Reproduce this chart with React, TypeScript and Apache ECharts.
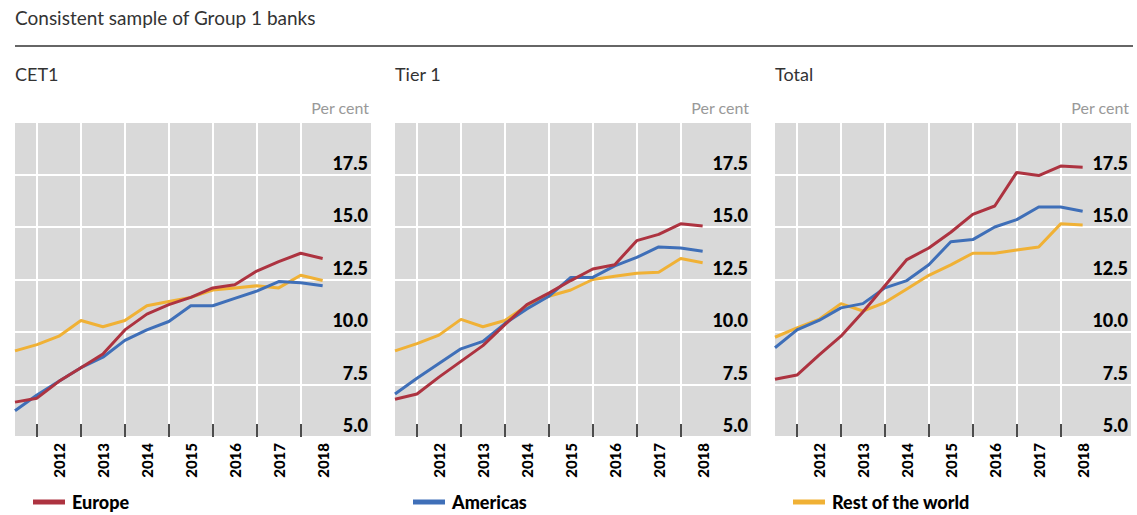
import { useEffect, useRef } from "react";
import * as echarts from "echarts";

// Half-yearly observations (mid-2011 to mid-2018), x in years
const periods = [2011.5, 2012, 2012.5, 2013, 2013.5, 2014, 2014.5, 2015, 2015.5, 2016, 2016.5, 2017, 2017.5, 2018, 2018.5];
const yearTicks = [2012, 2013, 2014, 2015, 2016, 2017, 2018];
const yearLabelPos = [2012.5, 2013.5, 2014.5, 2015.5, 2016.5, 2017.5, 2018.5];

const panelTitles = ["CET1", "Tier 1", "Total"];
const regions = ["Europe", "Americas", "Rest of the world"];
const regionColors = ["#ad3340", "#3f6fb8", "#f0b135"];

const cet1Europe = [6.66, 6.85, 7.65, 8.3, 8.95, 10.1, 10.85, 11.3, 11.65, 12.1, 12.25, 12.9, 13.35, 13.75, 13.5];
const cet1Americas = [6.25, 7.0, 7.65, 8.3, 8.8, 9.6, 10.1, 10.5, 11.25, 11.25, 11.6, 11.95, 12.4, 12.35, 12.2];
const cet1Rest = [9.1, 9.4, 9.8, 10.55, 10.25, 10.55, 11.25, 11.45, 11.65, 12.0, 12.1, 12.2, 12.1, 12.7, 12.45];

const tier1Europe = [6.8, 7.05, 7.85, 8.6, 9.35, 10.35, 11.3, 11.85, 12.45, 13.0, 13.2, 14.35, 14.65, 15.15, 15.05];
const tier1Americas = [7.05, 7.8, 8.5, 9.2, 9.55, 10.4, 11.1, 11.7, 12.6, 12.6, 13.15, 13.55, 14.05, 14.0, 13.85];
const tier1Rest = [9.1, 9.45, 9.85, 10.6, 10.25, 10.55, 11.25, 11.7, 12.0, 12.5, 12.65, 12.8, 12.85, 13.5, 13.3];

const totalEurope = [7.75, 7.95, 8.9, 9.8, 10.95, 12.2, 13.45, 14.0, 14.75, 15.6, 16.0, 17.6, 17.45, 17.9, 17.85];
const totalAmericas = [9.25, 10.1, 10.55, 11.15, 11.35, 12.1, 12.45, 13.2, 14.3, 14.4, 15.0, 15.35, 15.95, 15.95, 15.75];
const totalRest = [9.75, 10.2, 10.6, 11.35, 11.0, 11.4, 12.05, 12.7, 13.2, 13.75, 13.75, 13.9, 14.05, 15.15, 15.1];

const panelData = [
  [cet1Europe, cet1Americas, cet1Rest],
  [tier1Europe, tier1Americas, tier1Rest],
  [totalEurope, totalAmericas, totalRest],
];

const FONT = "Lato, 'Noto Sans', sans-serif";
const PANEL_LEFT = [15, 395, 775];
const PANEL_W = 356;
const GRID_TOP = 122;
const GRID_H = 315;

export default function App() {
  const ref = useRef<HTMLDivElement>(null);

  useEffect(() => {
    document.body.style.margin = "0";
    if (!ref.current) return;
    const chart = echarts.init(ref.current, null, { renderer: "svg" });

    const grids = PANEL_LEFT.map((left) => ({
      left,
      top: GRID_TOP,
      width: PANEL_W,
      height: GRID_H,
      show: true,
      backgroundColor: "#d9d9d9",
      borderWidth: 0,
    }));

    const xAxes = PANEL_LEFT.map((_, i) => ({
      type: "value",
      gridIndex: i,
      min: 2011.5,
      max: 2019.6,
      axisLine: { show: false },
      axisTick: {
        show: true,
        inside: true,
        length: 13,
        customValues: yearTicks,
        lineStyle: { color: "#111", width: 1.5 },
      },
      splitLine: { show: true, lineStyle: { color: "#ffffff", width: 2 } },
      axisLabel: {
        show: true,
        customValues: yearLabelPos,
        formatter: (v: number) => String(Math.floor(v)),
        rotate: 90,
        margin: 6,
        fontFamily: FONT,
        fontWeight: 900,
        fontSize: 15,
        color: "#000",
      },
    }));

    const yAxes = PANEL_LEFT.map((_, i) => ({
      type: "value",
      gridIndex: i,
      position: "right",
      min: 5,
      max: 20,
      interval: 2.5,
      axisLine: { show: false },
      axisTick: { show: false },
      splitLine: { show: true, lineStyle: { color: "#ffffff", width: 2 } },
      axisLabel: {
        inside: true,
        margin: 3,
        showMaxLabel: false,
        formatter: (v: number) => (v >= 20 ? "" : v.toFixed(1)),
        verticalAlign: "bottom",
        padding: [0, 0, 3, 0],
        fontFamily: FONT,
        fontWeight: 900,
        fontSize: 18,
        color: "#000",
      },
    }));

    const series: any[] = [];
    panelData.forEach((group, gi) => {
      group.forEach((vals, ri) => {
        series.push({
          type: "line",
          name: regions[ri],
          xAxisIndex: gi,
          yAxisIndex: gi,
          data: periods.map((p, k) => [p, vals[k]]),
          showSymbol: false,
          symbol: "none",
          lineStyle: { color: regionColors[ri], width: 3 },
          itemStyle: { color: regionColors[ri] },
          z: 3 + (2 - ri),
        });
      });
    });

    const legends = regions.map((name, i) => ({
      data: [name],
      left: 33 + 380 * i,
      top: 493,
      padding: 0,
      icon: "rect",
      itemWidth: 32,
      itemHeight: 5,
      itemGap: 10,
      selectedMode: false,
      textStyle: {
        fontFamily: FONT,
        fontWeight: 900,
        fontSize: 18,
        color: "#000",
        padding: [0, 0, 0, 2],
      },
    }));

    const graphic: any[] = [
      {
        type: "text",
        left: 15,
        top: 8,
        style: { text: "Consistent sample of Group 1 banks", fontFamily: FONT, fontSize: 19, fill: "#333" },
      },
      {
        type: "line",
        shape: { x1: 15, y1: 46, x2: 1133, y2: 46 },
        style: { stroke: "#333", lineWidth: 1.5 },
      },
    ];
    panelTitles.forEach((t, i) => {
      graphic.push({
        type: "text",
        left: PANEL_LEFT[i],
        top: 65,
        style: { text: t, fontFamily: FONT, fontSize: 18, fill: "#333" },
      });
      graphic.push({
        type: "text",
        x: PANEL_LEFT[i] + PANEL_W - 2,
        y: 107,
        style: {
          text: "Per cent",
          fontFamily: FONT,
          fontSize: 16,
          fill: "#999",
          align: "right",
          verticalAlign: "middle",
        },
      });
    });

    chart.setOption({
      animation: false,
      backgroundColor: "#ffffff",
      grid: grids,
      xAxis: xAxes,
      yAxis: yAxes,
      legend: legends,
      series,
      graphic,
    });

    return () => chart.dispose();
  }, []);

  return (
    <div
      ref={ref}
      style={{ position: "absolute", left: 0, top: 0, width: 1137, height: 515 }}
    />
  );
}
